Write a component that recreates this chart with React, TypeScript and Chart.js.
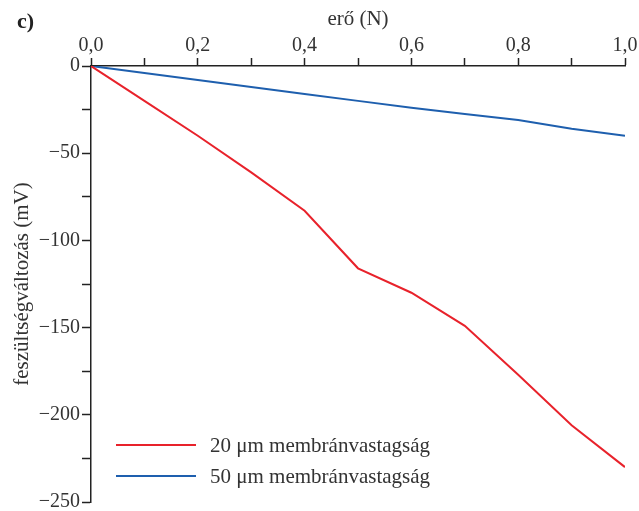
import React, { useEffect, useRef } from "react";
import { Chart, registerables } from "chart.js";

Chart.register(...registerables);

const forces = [0, 0.1, 0.2, 0.3, 0.4, 0.5, 0.6, 0.7, 0.8, 0.9, 1.0];
const thin20 = [0, -20, -40, -61, -83, -116, -130, -149, -177, -206, -230];
const thick50 = [0, -4, -8, -12, -16, -20, -24, -27.5, -31, -36, -40];
const seriesLabels = ["20 μm membránvastagság", "50 μm membránvastagság"];
const seriesColors = ["#e8222b", "#1e5fae"];
const xTitle = "erő (N)";
const yTitle = "feszültségváltozás (mV)";
const panelLabel = "c)";

const FONT = "'Liberation Serif', 'DejaVu Serif', serif";
const AXIS = "#222";

const legendPlugin = {
  id: "innerLegend",
  afterDraw(chart: any) {
    const ctx = chart.ctx;
    const area = chart.chartArea;
    ctx.save();
    chart.data.datasets.forEach((ds: any, i: number) => {
      const y = area.bottom - 57 + i * 31;
      const x0 = area.left + 25;
      ctx.strokeStyle = ds.borderColor;
      ctx.lineWidth = 2;
      ctx.beginPath();
      ctx.moveTo(x0, y);
      ctx.lineTo(x0 + 80, y);
      ctx.stroke();
      ctx.fillStyle = "#333";
      ctx.font = `21px ${FONT}`;
      ctx.textBaseline = "middle";
      ctx.textAlign = "left";
      ctx.fillText(ds.label, x0 + 94, y + 1);
    });
    ctx.restore();
  },
};

export default function App() {
  const ref = useRef<HTMLCanvasElement | null>(null);
  useEffect(() => {
    if (!ref.current) return;
    const mk = (vals: number[]) => forces.map((f, i) => ({ x: f, y: vals[i] }));
    const chart = new Chart(ref.current, {
      type: "line",
      data: {
        datasets: [
          {
            label: seriesLabels[0],
            data: mk(thin20),
            borderColor: seriesColors[0],
            backgroundColor: seriesColors[0],
            borderWidth: 2,
            pointRadius: 0,
            tension: 0,
          },
          {
            label: seriesLabels[1],
            data: mk(thick50),
            borderColor: seriesColors[1],
            backgroundColor: seriesColors[1],
            borderWidth: 2,
            pointRadius: 0,
            tension: 0,
          },
        ],
      },
      options: {
        animation: false,
        responsive: false,
        maintainAspectRatio: false,
        layout: { padding: { left: 0, top: 0, right: 14, bottom: 9 } },
        plugins: { legend: { display: false }, tooltip: { enabled: false } },
        scales: {
          x: {
            type: "linear",
            position: "top",
            min: 0,
            max: 1,
            afterFit: (s: any) => {
              s.height = 66;
              s.paddingLeft = 0;
              s.paddingRight = 0;
            },
            ticks: {
              stepSize: 0.1,
              autoSkip: false,
              maxRotation: 0,
              color: "#333",
              padding: 0,
              font: { family: FONT, size: 20 },
              callback: (v: any, i: number) =>
                i % 2 === 0 ? Number(v).toFixed(1).replace(".", ",") : "",
            },
            grid: {
              drawOnChartArea: false,
              drawTicks: true,
              tickLength: 8,
              tickColor: AXIS,
              tickWidth: 1.5,
            },
            border: { color: AXIS, width: 1.5 },
            title: {
              display: true,
              text: xTitle,
              color: "#333",
              font: { family: FONT, size: 21 },
              padding: { top: 7, bottom: 0 },
            },
          },
          y: {
            type: "linear",
            min: -250,
            max: 0,
            afterFit: (s: any) => {
              s.width = 91;
              s.paddingTop = 0;
              s.paddingBottom = 0;
            },
            ticks: {
              stepSize: 25,
              autoSkip: false,
              color: "#333",
              padding: 2,
              font: { family: FONT, size: 20 },
              callback: (v: any) => {
                const n = Number(v);
                if (n % 50 !== 0) return "";
                return n < 0 ? "\u2212" + Math.abs(n) : "0";
              },
            },
            grid: {
              drawOnChartArea: false,
              drawTicks: true,
              tickLength: 9,
              tickColor: AXIS,
              tickWidth: 1.5,
            },
            border: { color: AXIS, width: 1.5 },
            title: {
              display: true,
              text: yTitle,
              color: "#333",
              font: { family: FONT, size: 21 },
              padding: { top: 10, bottom: 4 },
            },
          },
        },
      },
      plugins: [legendPlugin],
    });
    return () => chart.destroy();
  }, []);

  return (
    <div style={{ position: "fixed", left: 0, top: 0, width: 639, height: 511, background: "#fff" }}>
      <canvas ref={ref} width={639} height={511} style={{ display: "block" }} />
      <div
        style={{
          position: "absolute",
          left: 17,
          top: 8,
          fontFamily: FONT,
          fontWeight: "bold",
          fontSize: 22,
          color: "#222",
        }}
      >
        {panelLabel}
      </div>
    </div>
  );
}
